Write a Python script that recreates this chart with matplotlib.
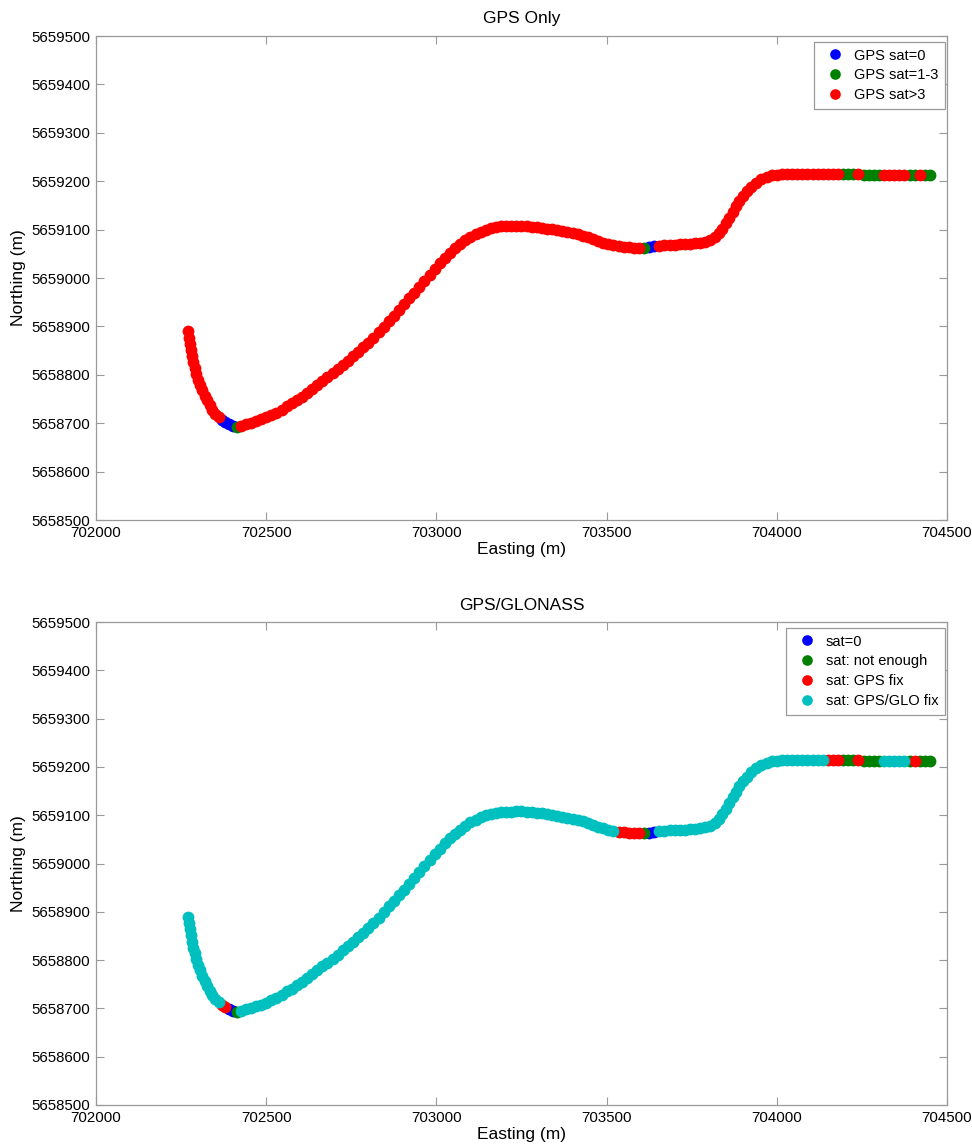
import matplotlib
matplotlib.use("Agg")
import matplotlib.pyplot as plt
from matplotlib.ticker import FormatStrFormatter

plt.rcParams['font.family'] = ['Liberation Sans', 'DejaVu Sans']

# ---------------- track (easting / northing, m) ----------------
# descent at the start
east_a = [702270, 702272, 702275, 702278, 702282, 702286, 702290, 702295, 702300, 702306, 702312,
          702319, 702326, 702334, 702342, 702351, 702360, 702370, 702380, 702391, 702402, 702413]
north_a = [5658890, 5658877, 5658864, 5658851, 5658838, 5658826, 5658814, 5658802, 5658790, 5658779, 5658768,
           5658757, 5658747, 5658737, 5658728, 5658720, 5658713, 5658707, 5658702, 5658698, 5658695, 5658693]

# long climb and plateau
east_b = [702425, 702440, 702455, 702470, 702485, 702500, 702515, 702530, 702545, 702560, 702575, 702590,
          702605, 702620, 702635, 702650, 702665, 702680, 702695, 702710, 702725, 702740, 702755, 702770,
          702785, 702800, 702815, 702830, 702845, 702860, 702875, 702890, 702905, 702920, 702935, 702950,
          702965, 702980, 702995, 703010, 703025, 703040, 703055, 703070, 703085, 703100, 703115, 703130,
          703145, 703160, 703175, 703190, 703205, 703220, 703235, 703250, 703265, 703280, 703295, 703310,
          703325, 703340, 703355, 703370, 703385, 703400, 703415, 703430, 703445, 703460, 703475, 703490,
          703505, 703520]
north_b = [5658695, 5658698, 5658701, 5658704, 5658708, 5658712, 5658717, 5658722, 5658728, 5658735, 5658741, 5658748,
           5658755, 5658763, 5658771, 5658779, 5658787, 5658795, 5658803, 5658811, 5658820, 5658829, 5658838, 5658847,
           5658857, 5658866, 5658877, 5658888, 5658899, 5658911, 5658922, 5658934, 5658946, 5658958, 5658970, 5658982,
           5658994, 5659007, 5659019, 5659031, 5659042, 5659052, 5659061, 5659070, 5659078, 5659085, 5659091, 5659096,
           5659100, 5659103, 5659105, 5659107, 5659107, 5659107, 5659108, 5659108, 5659107, 5659106, 5659105, 5659104,
           5659102, 5659101, 5659099, 5659097, 5659095, 5659093, 5659090, 5659087, 5659084, 5659080, 5659076, 5659073,
           5659070, 5659068]

# dip around 703600
east_c = [703535, 703550, 703565, 703580, 703595, 703610, 703625, 703640, 703655]
north_c = [5659066, 5659065, 5659064, 5659063, 5659063, 5659063, 5659064, 5659066, 5659067]

# second rise
east_d = [703670, 703685, 703700, 703715, 703730, 703745, 703760, 703775, 703790, 703805, 703818, 703830,
          703840, 703850, 703860, 703870, 703880, 703890, 703900, 703912, 703925, 703940, 703955, 703970,
          703985, 704000]
north_d = [5659068, 5659069, 5659069, 5659070, 5659070, 5659071, 5659072, 5659073, 5659075, 5659078, 5659084, 5659092,
           5659102, 5659113, 5659125, 5659137, 5659149, 5659160, 5659170, 5659180, 5659189, 5659197, 5659204, 5659209,
           5659212, 5659213]

# final straight
east_e = [704015, 704030, 704045, 704060, 704075, 704090, 704105, 704120, 704135, 704150, 704165, 704180,
          704195, 704210, 704225, 704240, 704255, 704270, 704285, 704300, 704315, 704330, 704345, 704360,
          704375, 704390, 704405, 704420, 704435, 704450]
north_e = [5659214, 5659214, 5659214, 5659214, 5659214, 5659214, 5659214, 5659214, 5659214, 5659214, 5659214, 5659214,
           5659214, 5659214, 5659214, 5659214, 5659213, 5659213, 5659213, 5659213, 5659213, 5659213, 5659213, 5659213,
           5659213, 5659213, 5659213, 5659212, 5659212, 5659212]

east = east_a + east_b + east_c + east_d + east_e
north = north_a + north_b + north_c + north_d + north_e

# satellite status along the track (run lengths)
gps_status = (["gt3"] * 17 + ["0"] * 4 + ["1-3"] * 1 + ["gt3"] * 79 + ["1-3"] * 1 + ["0"] * 2
              + ["gt3"] * 39 + ["1-3"] * 3 + ["gt3"] * 1 + ["1-3"] * 4 + ["gt3"] * 5 + ["1-3"] * 2
              + ["gt3"] * 1 + ["1-3"] * 2)
glo_status = (["glo"] * 17 + ["gps"] * 2 + ["none"] * 2 + ["few"] * 1 + ["glo"] * 74 + ["gps"] * 5
              + ["few"] * 1 + ["none"] * 2 + ["glo"] * 36 + ["gps"] * 3 + ["few"] * 3 + ["gps"] * 1
              + ["few"] * 4 + ["glo"] * 5 + ["few"] * 1 + ["gps"] * 1 + ["few"] * 3)

gps_codes = ["0", "1-3", "gt3"]
gps_labels = ["GPS sat=0", "GPS sat=1-3", "GPS sat>3"]
gps_colors = ["#0000ff", "#008000", "#ff0000"]

glo_codes = ["none", "few", "gps", "glo"]
glo_labels = ["sat=0", "sat: not enough", "sat: GPS fix", "sat: GPS/GLO fix"]
glo_colors = ["#0000ff", "#008000", "#ff0000", "#00bfbf"]

x_ticks = [702000, 702500, 703000, 703500, 704000, 704500]
y_ticks = [5658500, 5658600, 5658700, 5658800, 5658900, 5659000, 5659100, 5659200, 5659300, 5659400, 5659500]

fig = plt.figure(figsize=(9.72, 11.47), dpi=100)
ax1 = fig.add_axes([96 / 972, 1 - 520 / 1147, 851 / 972, 484 / 1147])
ax2 = fig.add_axes([96 / 972, 1 - 1105 / 1147, 851 / 972, 483 / 1147])


def draw(ax, status, codes, labels, colors, title):
    for code, lab, col in zip(codes, labels, colors):
        xs = [e for e, s in zip(east, status) if s == code]
        ys = [n for n, s in zip(north, status) if s == code]
        ax.plot(xs, ys, 'o', ls='none', color=col, ms=8.5, mew=0, label=lab)
    ax.set_xlim(702000, 704500)
    ax.set_ylim(5658500, 5659500)
    ax.set_xticks(x_ticks)
    ax.set_yticks(y_ticks)
    ax.xaxis.set_major_formatter(FormatStrFormatter('%d'))
    ax.yaxis.set_major_formatter(FormatStrFormatter('%d'))
    ax.tick_params(direction='in', length=6, width=0.8, color='#999999', labelsize=10.8,
                   top=True, right=True, pad=4)
    for sp in ax.spines.values():
        sp.set_color('#999999')
        sp.set_linewidth(0.9)
    ax.set_title(title, fontsize=12.5, pad=9)
    ax.set_xlabel('Easting (m)', fontsize=12.5, labelpad=2)
    ax.set_ylabel('Northing (m)', fontsize=12.5, labelpad=4)
    leg = ax.legend(loc='upper right', bbox_to_anchor=(1 - 2 / 851, 1 - 6 / 484), borderaxespad=0,
                    fontsize=10.5, numpoints=1, markerscale=0.9, handlelength=2.0, handletextpad=0.3,
                    borderpad=0.45, labelspacing=0.4, fancybox=False, framealpha=1, edgecolor='#999999')
    leg.get_frame().set_linewidth(0.9)


draw(ax1, gps_status, gps_codes, gps_labels, gps_colors, 'GPS Only')
draw(ax2, glo_status, glo_codes, glo_labels, glo_colors, 'GPS/GLONASS')

fig.savefig('out.png', dpi=100)
